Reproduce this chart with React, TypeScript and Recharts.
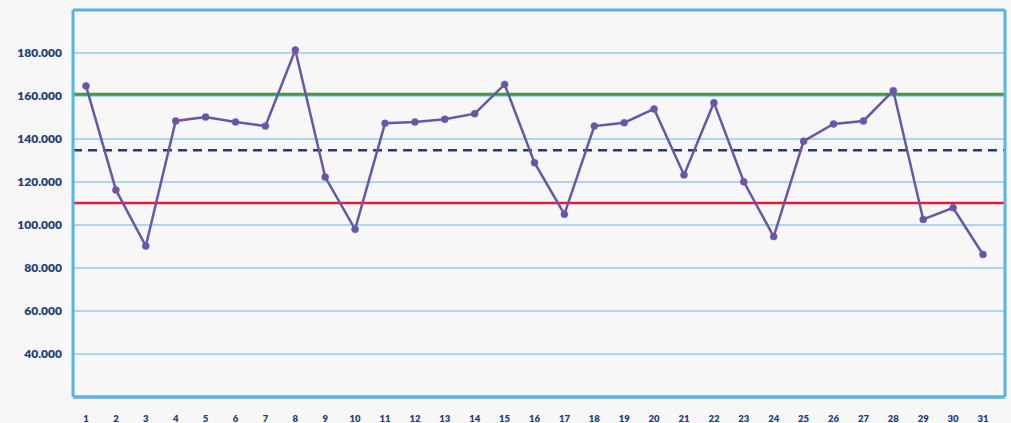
import React from "react";
import {
  LineChart,
  Line,
  XAxis,
  YAxis,
  CartesianGrid,
  ReferenceLine,
} from "recharts";

const days = Array.from({ length: 31 }, (_, i) => String(i + 1));
const values = [
  164700, 116300, 90200, 148400, 150200, 147900, 146000, 181400, 122300, 98000,
  147300, 147900, 149200, 151800, 165400, 129000, 105000, 146000, 147600, 154000,
  123300, 156900, 120100, 94600, 139000, 147000, 148400, 162500, 102600, 108000,
  86300,
];
const upperLimit = 160800;
const average = 134800;
const lowerLimit = 110200;
const yTicks = [20000, 40000, 60000, 80000, 100000, 120000, 140000, 160000, 180000, 200000];

const data = days.map((d, i) => ({ day: d, value: values[i] }));

const navy = "#243f78";
const blue = "#55b4ea";
const grid = "#8fcdf0";
const font = "Lato, 'Open Sans', sans-serif";

const fmt = (v: number) =>
  v === 20000 || v === 200000 ? "" : v.toLocaleString("de-DE");

export default function App() {
  return (
    <div style={{ width: 1011, height: 423, background: "#f7f7f8" }}>
      <style>{`body{margin:0}`}</style>
      <LineChart
        width={1011}
        height={423}
        data={data}
        margin={{ top: 10, right: 0, bottom: 0, left: 0 }}
      >
        <CartesianGrid vertical={false} stroke={grid} strokeWidth={1.5} />
        <XAxis
          dataKey="day"
          interval={0}
          padding={{ left: 13, right: 22 }}
          height={26}
          tickLine={false}
          axisLine={{ stroke: blue, strokeWidth: 3 }}
          tick={{ fill: navy, fontSize: 9.5, fontWeight: 800, fontFamily: font }}
          tickMargin={12}
        />
        <YAxis
          domain={[20000, 200000]}
          ticks={yTicks}
          width={73}
          tickLine={false}
          axisLine={{ stroke: blue, strokeWidth: 3 }}
          tickFormatter={fmt}
          tickMargin={5}
          tick={{ fill: navy, fontSize: 12, fontWeight: 800, fontFamily: font }}
        />
        <YAxis yAxisId="right" orientation="right" domain={[20000, 200000]} width={6} tick={false} tickLine={false} axisLine={{ stroke: blue, strokeWidth: 3 }} />
        <ReferenceLine y={200000} stroke={blue} strokeWidth={3} />
        <ReferenceLine y={20000} stroke={blue} strokeWidth={3} />
        <ReferenceLine y={upperLimit} stroke="#3e9b3e" strokeWidth={3} />
        <ReferenceLine y={average} stroke="#1f3c7c" strokeWidth={2.5} strokeDasharray="9 6" />
        <ReferenceLine y={lowerLimit} stroke="#e11d35" strokeWidth={2.5} />
        <Line
          dataKey="value"
          stroke="#6a56a6"
          strokeWidth={2.5}
          dot={{ r: 3.5, fill: "#6a56a6", stroke: "#6a56a6", strokeWidth: 0.5 }}
          activeDot={false}
          isAnimationActive={false}
        />
      </LineChart>
    </div>
  );
}
